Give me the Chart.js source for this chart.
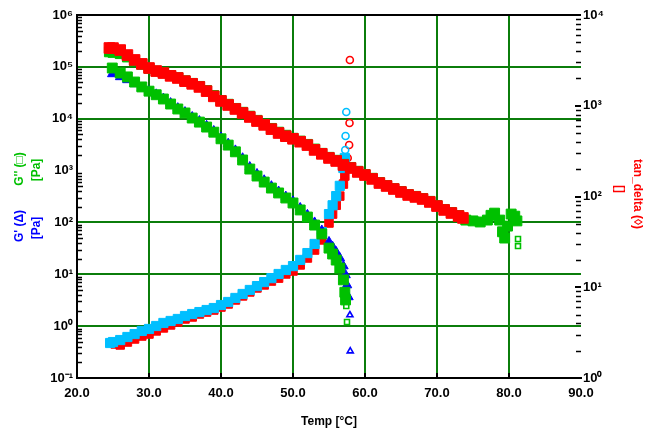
<!DOCTYPE html>
<html><head><meta charset="utf-8">
<script src="https://cdn.jsdelivr.net/npm/chart.js@4.4.0/dist/chart.umd.min.js"></script>
<style>html,body{margin:0;padding:0;background:#fff;}#wrap{width:654px;height:430px;}</style>
</head><body><div id="wrap"><canvas id="c" width="654" height="430"></canvas></div>
<script>
// ---------- data ----------
const xTickValues = [20, 30, 40, 50, 60, 70, 80, 90];
const leftTickValues = [0.1, 1, 10, 100, 1000, 10000, 100000, 1000000];
const rightTickValues = [1, 10, 100, 1000, 10000];

// upper band (red, left axis)
const upperRedTemps = [24.5,25,26,27,28,29,30,31,32,33,34,35,36,37,38,39,40,41,42,43,44,45,46,47,48,49,50,51,52,53,54,55,56,57,58,59,60,61,62,63,64,65,66,67,68,69,70,71,72,73,73.6];
const upperRedVals  = [2.31e5,2.3e5,2.11e5,1.69e5,1.36e5,1.14e5,9.5e4,8.3e4,7.6e4,6.7e4,6.1e4,5.3e4,4.7e4,4.1e4,3.4e4,2.7e4,2.2e4,1.84e4,1.54e4,1.29e4,1.08e4,9.0e3,7.6e3,6.3e3,5.3e3,4.6e3,4.1e3,3.6e3,3.1e3,2.5e3,2.1e3,1.75e3,1.53e3,1.28e3,1.12e3,940,820,690,575,504,441,386,338,310,283,248,207,174,152,133,122];

// upper band (green, left axis), continues past the red
const upperGreenTemps = [24.5,25,26,27,28,29,30,31,32,33,34,35,36,37,38,39,40,41,42,43,44,45,46,47,48,49,50,51,52,53,54,55,56,57,58,59,60,61,62,63,64,65,66,67,68,69,70,71,72,73,74,75,76,77,77.5,78,78.7,79.1,79.4,79.8,80.3,80.8,81.1,81.25,81.25];
const upperGreenVals  = [1.95e5,1.9e5,1.8e5,1.55e5,1.3e5,1.12e5,9.4e4,8.3e4,7.7e4,6.8e4,6.2e4,5.4e4,4.8e4,4.2e4,3.5e4,2.8e4,2.25e4,1.9e4,1.58e4,1.33e4,1.12e4,9.3e3,7.8e3,6.5e3,5.5e3,4.8e3,4.2e3,3.7e3,3.2e3,2.6e3,2.15e3,1.8e3,1.58e3,1.32e3,1.15e3,970,840,710,590,515,450,395,346,318,290,255,212,178,155,136,111,107,102,111,137,151,111,66,50,85,145,132,107,48,35];

// lower band: G'' (green squares) and G' (blue triangles), left axis
const gDoubleTemps = [24.9,26,27,28,29,30,31,32,33,34,35,36,37,38,39,40,41,42,43,44,45,46,47,48,49,50,51,52,53,54,55,55.5,56,56.5,57,57.2,57.3,57.4,57.5];
const gDoubleVals  = [9.5e4,7.6e4,6.4e4,5.1e4,4.1e4,3.4e4,2.9e4,2.4e4,1.92e4,1.54e4,1.29e4,1.03e4,8.6e3,6.9e3,5.5e3,4.1e3,3.1e3,2.3e3,1.6e3,1.07e3,785,600,460,370,296,237,174,127,89,60,32,24.6,18.8,13.2,7.8,4.5,3.2,2.44,1.2];
const gPrimeTemps = [24.9,26,27,28,29,30,31,32,33,34,35,36,37,38,39,40,41,42,43,44,45,46,47,48,49,50,51,52,53,54,55,55.5,56,56.5,57,57.3,57.5,57.7,57.9,57.95];
const gPrimeVals  = [7.3e4,6.4e4,5.6e4,4.7e4,3.9e4,3.4e4,2.95e4,2.45e4,2.0e4,1.6e4,1.34e4,1.08e4,9.0e3,7.3e3,5.8e3,4.35e3,3.3e3,2.45e3,1.73e3,1.17e3,860,650,500,395,315,255,190,140,100,70,42,34,26.9,20.6,14.4,9.7,6.2,3.65,1.64,0.33];

// rising curves, tan_delta (right axis)
const tanCyanTemps = [24.6,25,26,27,28,29,30,31,32,33,34,35,36,37,38,39,40,41,42,43,44,45,46,47,48,49,50,51,52,53,54,55,55.5,56,56.5,57,57.2,57.25,57.3,57.4];
const tanCyanVals  = [2.43,2.49,2.62,2.83,3.05,3.30,3.47,3.74,4.04,4.25,4.47,4.82,5.07,5.33,5.61,5.90,6.37,6.88,7.62,8.43,9.33,10.3,11.4,12.6,14.0,15.5,17.1,20.0,23.8,30.0,40.6,64,80,101,131,206,266,325,464,853];
const tanRedTemps = [25.3,26,27,28,29,30,31,32,33,34,35,36,37,38,39,40,41,42,43,44,45,46,47,48,49,50,51,52,53,54,55,55.5,56,56.5,57,57.2,57.6,57.8,57.85,57.9];
const tanRedVals  = [2.37,2.31,2.49,2.69,2.90,3.05,3.30,3.56,3.84,4.14,4.47,4.70,5.07,5.33,5.61,6.05,6.54,7.24,8.02,8.87,9.82,10.6,11.7,12.6,14.0,15.1,17.6,21.0,25.7,33.2,51,64,80,101,137,168,266,369,646,3190];

// ---------- helpers ----------
const pts = (xs, ys) => xs.map((x, i) => ({x: x, y: ys[i]}));
const SUP = {'-':'⁻','0':'⁰','1':'¹','2':'²','3':'³','4':'⁴','5':'⁵','6':'⁶','7':'⁷','8':'⁸','9':'⁹'};
const powLabel = v => '10' + String(Math.round(Math.log10(v))).split('').map(c => SUP[c]).join('');
const FONT = '"Liberation Sans", Arial, sans-serif';
const GRID = '#0b7d0b';
const CLEAR = 'rgba(0,0,0,0)';

function ds(label, data, color, style, r, tailCount, axis, tailStyle) {
  const n = data.length;
  const isTail = c => c.dataIndex >= n - tailCount;
  return {
    label: label, data: data, yAxisID: axis, showLine: false,
    pointStyle: c => (isTail(c) && tailStyle ? tailStyle : style),
    pointRadius: c => (isTail(c) ? 3.5 : r),
    pointBackgroundColor: c => (isTail(c) ? CLEAR : color),
    pointBorderColor: color,
    pointBorderWidth: c => (isTail(c) ? 1.6 : 1),
    pointHoverRadius: r
  };
}

const decor = {
  id: 'decor',
  afterDraw(chart) {
    const ctx = chart.ctx, a = chart.chartArea;
    const yl = chart.scales.y, yr = chart.scales.y2;
    ctx.save();
    // top frame line
    ctx.strokeStyle = '#000'; ctx.lineWidth = 2;
    ctx.beginPath(); ctx.moveTo(a.left - 1, a.top); ctx.lineTo(a.right, a.top); ctx.stroke();
    // minor ticks, inside the plot
    ctx.lineWidth = 1.5;
    for (let e = -1; e < 6; e++) {
      for (let m = 2; m <= 9; m++) {
        const y = Math.round(yl.getPixelForValue(m * Math.pow(10, e))) + 0.5;
        ctx.beginPath(); ctx.moveTo(a.left, y); ctx.lineTo(a.left + (m === 5 ? 6 : 5), y); ctx.stroke();
      }
    }
    for (let e = 0; e < 4; e++) {
      for (let m = 2; m <= 9; m++) {
        const y = Math.round(yr.getPixelForValue(m * Math.pow(10, e))) + 0.5;
        ctx.beginPath(); ctx.moveTo(a.right - 5, y); ctx.lineTo(a.right, y); ctx.stroke();
      }
    }
    ctx.lineWidth = 2;
    rightTickValues.forEach(v => {
      const y = Math.round(yr.getPixelForValue(v));
      ctx.beginPath(); ctx.moveTo(a.right - 6, y); ctx.lineTo(a.right, y); ctx.stroke();
    });
    xTickValues.slice(1, -1).forEach(v => {
      const x = Math.round(chart.scales.x.getPixelForValue(v));
      ctx.beginPath(); ctx.moveTo(x, a.bottom); ctx.lineTo(x, a.bottom - 5); ctx.stroke();
    });
    // axis titles
    ctx.font = 'bold 12px ' + FONT;
    ctx.textAlign = 'center'; ctx.textBaseline = 'middle';
    const put = (txt, x, y, rot, col) => {
      ctx.save(); ctx.translate(x, y); ctx.rotate(rot); ctx.fillStyle = col; ctx.fillText(txt, 0, 0); ctx.restore();
    };
    put("G'' (\u25A1)", 20, 169, -Math.PI / 2, '#00c000');
    put('[Pa]', 37, 170, -Math.PI / 2, '#00c000');
    put("G' (\u0394)", 20, 226, -Math.PI / 2, '#0000ff');
    put('[Pa]', 37, 228, -Math.PI / 2, '#0000ff');
    put('tan_delta (\u25CA)', 637, 194, Math.PI / 2, '#ff0000');
    put('[]', 619, 189, Math.PI / 2, '#ff0000');
    ctx.restore();
  }
};

new Chart(document.getElementById('c'), {
  type: 'scatter',
  data: {
    datasets: [
      ds('upper band (red)', pts(upperRedTemps, upperRedVals), '#ff0000', 'rect', 7.5, 0, 'y'),
      ds('upper band (green)', pts(upperGreenTemps, upperGreenVals), '#00c000', 'rect', 7, 2, 'y'),
      ds("G'' (\u25A1)", pts(gDoubleTemps, gDoubleVals), '#00c000', 'rect', 7, 2, 'y'),
      ds("G' (\u0394)", pts(gPrimeTemps, gPrimeVals), '#0000ff', 'triangle', 5.5, 2, 'y'),
      ds('tan_delta (\u25CA) cyan', pts(tanCyanTemps, tanCyanVals), '#00bfff', 'rect', 6.5, 3, 'y2', 'circle'),
      ds('tan_delta (\u25CA) red', pts(tanRedTemps, tanRedVals), '#ff0000', 'rect', 6, 4, 'y2', 'circle')
    ]
  },
  options: {
    responsive: false, animation: false, devicePixelRatio: 1,
    layout: {padding: {top: 15, left: 0, right: 0, bottom: 0}},
    plugins: {legend: {display: false}, tooltip: {enabled: false}},
    scales: {
      x: {
        type: 'linear', position: 'bottom', min: 20, max: 90,
        afterBuildTicks: s => { s.ticks = xTickValues.map(v => ({value: v})); },
        afterFit: s => { s.height = 52; },
        ticks: {callback: v => Number(v).toFixed(1), color: '#000', font: {family: FONT, size: 13, weight: 'bold'}, padding: 8, maxRotation: 0, autoSkip: false},
        grid: {color: c => (c.tick && (c.tick.value === 20 || c.tick.value === 90)) ? CLEAR : GRID, lineWidth: 2, drawTicks: false},
        border: {display: true, color: '#000', width: 2},
        title: {display: true, text: 'Temp [°C]', color: '#000', font: {family: FONT, size: 12, weight: 'bold'}, padding: {top: 0, bottom: 1}}
      },
      y: {
        type: 'logarithmic', position: 'left', min: 0.1, max: 1e6,
        afterBuildTicks: s => { s.ticks = leftTickValues.map(v => ({value: v, major: true})); },
        afterFit: s => { s.width = 77; },
        ticks: {callback: v => powLabel(v), color: '#000', font: {family: FONT, size: 13, weight: 'bold'}, padding: 4, autoSkip: false},
        grid: {color: c => (c.tick && [0.1, 1000, 1e6].includes(c.tick.value)) ? CLEAR : GRID, lineWidth: 2, drawTicks: false},
        border: {display: true, color: '#000', width: 2}
      },
      y2: {
        type: 'logarithmic', position: 'right', min: 1, max: 1e4,
        afterBuildTicks: s => { s.ticks = rightTickValues.map(v => ({value: v, major: true})); },
        afterFit: s => { s.width = 73; },
        ticks: {callback: v => powLabel(v), color: '#000', font: {family: FONT, size: 13, weight: 'bold'}, padding: 2, autoSkip: false},
        grid: {drawOnChartArea: false, drawTicks: false},
        border: {display: false}
      }
    }
  },
  plugins: [decor]
});
</script>
</body></html>
